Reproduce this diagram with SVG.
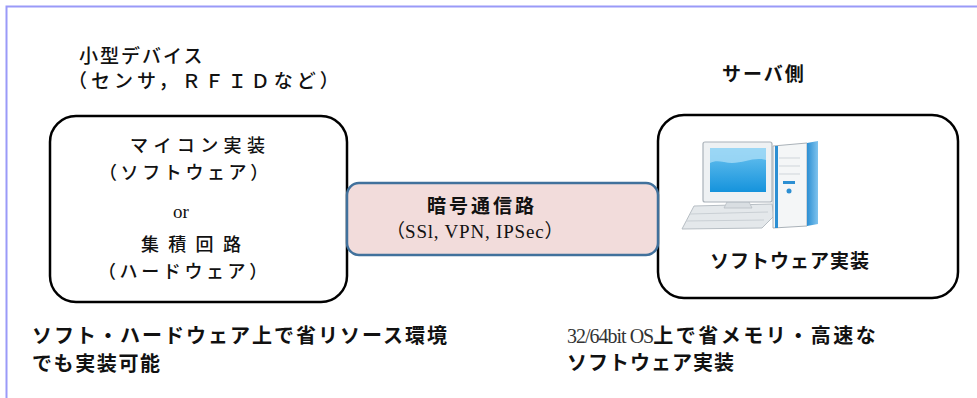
<svg xmlns="http://www.w3.org/2000/svg" width="977" height="398" viewBox="0 0 977 398">
  <defs>
    <style>
      .jp { font-family: "Noto Sans CJK JP", "Noto Sans", sans-serif; fill: #111; }
      .md { font-weight: 500; font-size: 19px; }
      .sm { font-weight: 500; font-size: 18px; }
      .bd { font-weight: 700; }
      .lat { font-family: "Liberation Serif", "DejaVu Serif", serif; font-weight: 400; }
      .box { fill: #ffffff; stroke: #000000; stroke-width: 2.5; }
      .channel { fill: #f2dcdb; stroke: #41719c; stroke-width: 2.5; }
    </style>
    <linearGradient id="screenGrad" x1="0" y1="0" x2="0" y2="1">
      <stop offset="0" stop-color="#6cc3f0"/>
      <stop offset="1" stop-color="#1593dc"/>
    </linearGradient>
    <linearGradient id="towerSide" x1="0" y1="0" x2="1" y2="0">
      <stop offset="0" stop-color="#2c8fd3"/>
      <stop offset="1" stop-color="#7fc3ee"/>
    </linearGradient>
  </defs>

  <!-- frame edge -->
  <path d="M6.5,398 V6.5 H977" fill="none" stroke="#9a9af8" stroke-width="2"/>

  <!-- caption above the device box -->
  <g id="device-caption">
    <text class="jp md"><tspan x="79" y="63" letter-spacing="2">小型デバイス</tspan><tspan x="68" y="88" letter-spacing="4">（センサ，ＲＦＩＤなど）</tspan></text>
  </g>

  <!-- small device node -->
  <g id="device">
    <rect class="box" x="50" y="116" width="297" height="186" rx="26"/>
    <text class="jp sm"><tspan x="130" y="152" letter-spacing="5.4">マイコン実装</tspan><tspan x="99" y="179" letter-spacing="3.6">（ソフトウェア）</tspan></text>
    <text class="lat" x="181" y="218" font-size="19" text-anchor="middle" fill="#111">or</text>
    <text class="jp sm"><tspan x="141" y="251" letter-spacing="9.3">集積回路</tspan><tspan x="98" y="278" letter-spacing="3.6">（ハードウェア）</tspan></text>
  </g>

  <!-- server node -->
  <g id="server">
    <text class="jp bd" x="722" y="81" font-size="19" letter-spacing="2">サーバ側</text>
    <rect class="box" x="658" y="115" width="300" height="183" rx="26"/>
    <!-- desktop computer icon -->
    <g id="computer">
      <!-- keyboard -->
      <path d="M694,206 L772,204 L774,216 L762,228 L682,229 Z" fill="#e4e8eb" stroke="#b7bec4" stroke-width="1"/>
      <path d="M690,214 L768,212 M686,221 L764,220" stroke="#c9cfd4" stroke-width="1" fill="none"/>
      <!-- monitor stand -->
      <path d="M728,200 L748,200 L752,208 L724,208 Z" fill="#d9dee2" stroke="#b7bec4" stroke-width="0.8"/>
      <!-- monitor -->
      <rect x="703" y="142" width="69" height="60" rx="2" fill="#eef1f3" stroke="#aab2b9" stroke-width="1.2"/>
      <rect x="710" y="148" width="56" height="44" fill="url(#screenGrad)"/>
      <path d="M710,148 H766 V160 C752,156 740,166 724,162 C718,161 714,161 710,163 Z" fill="#a8dcf6" opacity="0.8"/>
      <!-- tower -->
      <path d="M773,146 L807,143 L807,226 L773,228 Z" fill="#f4f6f7" stroke="#aab2b9" stroke-width="1"/>
      <path d="M807,143 L818,141 L818,224 L807,226 Z" fill="url(#towerSide)"/>
      <rect x="775" y="146" width="3" height="82" fill="#2c8fd3"/>
      <path d="M779,158 H800 M779,166 H800 M779,174 H800" stroke="#cfd5da" stroke-width="1"/>
      <rect x="783" y="181" width="12" height="3" fill="#2c8fd3"/>
      <circle cx="789" cy="191" r="2.5" fill="#2c8fd3"/>
    </g>
    <text class="jp bd" x="710" y="268" font-size="19" letter-spacing="1">ソフトウェア実装</text>
  </g>

  <!-- encrypted channel between the two sides -->
  <g id="channel">
    <rect class="channel" x="347" y="183" width="311" height="72" rx="12"/>
    <text font-size="19" fill="#111"><tspan class="jp bd" x="427" y="213" letter-spacing="3">暗号通信路</tspan><tspan class="jp" x="386" y="238">（</tspan><tspan class="lat" letter-spacing="0.8">SSl, VPN, IPSec</tspan><tspan class="jp">）</tspan></text>
  </g>

  <!-- notes under each side -->
  <g id="notes">
    <text class="jp bd" font-size="20"><tspan x="32" y="343" letter-spacing="2">ソフト・ハードウェア上で省リソース環境</tspan><tspan x="32" y="371" letter-spacing="1.6">でも実装可能</tspan></text>
    <text font-size="20" fill="#111"><tspan class="lat" x="567" y="343" fill="#333" letter-spacing="-1">32/64bit OS</tspan><tspan class="jp bd" letter-spacing="2.5">上で省メモリ・高速な</tspan><tspan class="jp bd" x="567" y="370" letter-spacing="1">ソフトウェア実装</tspan></text>
  </g>
</svg>
